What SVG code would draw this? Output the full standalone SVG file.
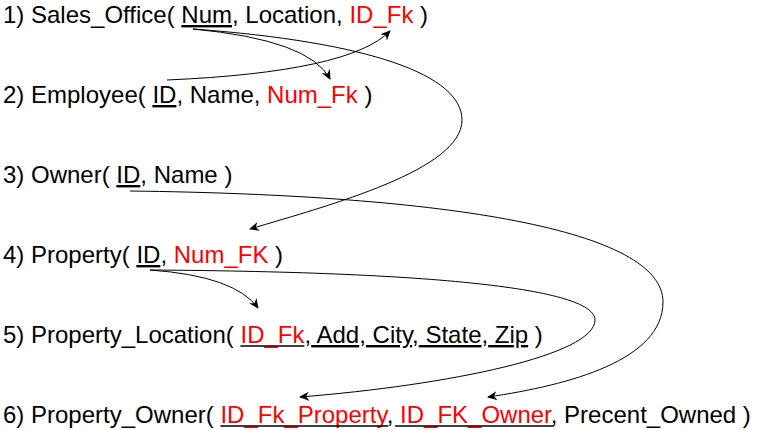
<svg xmlns="http://www.w3.org/2000/svg" width="770" height="430" viewBox="0 0 770 430">
<style>
text{font-family:"Liberation Sans",Arial,sans-serif;font-size:24px;fill:#000}
.fk{fill:#ff0000}
.u{text-decoration:underline}
.ul{stroke:#000;stroke-width:1.7}
.c{fill:none;stroke:#000;stroke-width:1}
</style>
<defs>
<marker id="ah" markerUnits="userSpaceOnUse" markerWidth="10" markerHeight="10" viewBox="0 0 10 10" refX="9" refY="5" orient="auto">
<path d="M0,0.5 L10,5 L0,9.5 L3,5 Z" fill="#000"/>
</marker>
</defs>
<rect width="770" height="430" fill="#fff"/>
<g id="sales_office"><text x="3" y="23">1) Sales_Office( <tspan class="u">Num</tspan>, Location, <tspan class="fk">ID_Fk</tspan> )</text></g>
<g id="employee"><text x="3" y="103">2) Employee( <tspan class="u">ID</tspan>, Name, <tspan class="fk">Num_Fk</tspan> )</text></g>
<g id="owner"><text x="3" y="183">3) Owner( <tspan class="u">ID</tspan>, Name )</text></g>
<g id="property"><text x="3" y="263">4) Property( <tspan class="u">ID</tspan>, <tspan class="fk">Num_FK</tspan> )</text></g>
<g id="property_location"><text x="3" y="343">5) Property_Location( <tspan class="fk">ID_Fk</tspan>,<tspan class="u"> Add</tspan>,<tspan class="u"> City</tspan>,<tspan class="u"> State</tspan>,<tspan class="u"> Zip</tspan> )</text>
<line class="ul" x1="240.4" y1="346" x2="304.4" y2="346"/></g>
<g id="property_owner"><text x="3" y="423">6) Property_Owner( <tspan class="fk">ID_Fk_Property</tspan>,<tspan> </tspan><tspan class="fk">ID_FK_Owner</tspan>, Precent_Owned )</text>
<path class="ul" d="M220.4,426 H388.4 M395.1,426 H553.8"/></g>
<g id="connectors">
<path class="c" marker-end="url(#ah)" d="M167,80 Q350,72 390,31"/>
<path class="c" marker-end="url(#ah)" d="M193,29 Q310,40 330,79"/>
<path class="c" marker-end="url(#ah)" d="M193,29 C370,42 462,75 462,120 C462,170 330,205 250,229"/>
<path class="c" marker-end="url(#ah)" d="M130,191 C450,195 663,230 663,302 C663,360 570,385 488,397"/>
<path class="c" marker-end="url(#ah)" d="M150,270 Q235,276 258,308"/>
<path class="c" marker-end="url(#ah)" d="M150,270 C450,272 595,290 595,320 C595,355 450,385 300,397"/>
</g>
</svg>
